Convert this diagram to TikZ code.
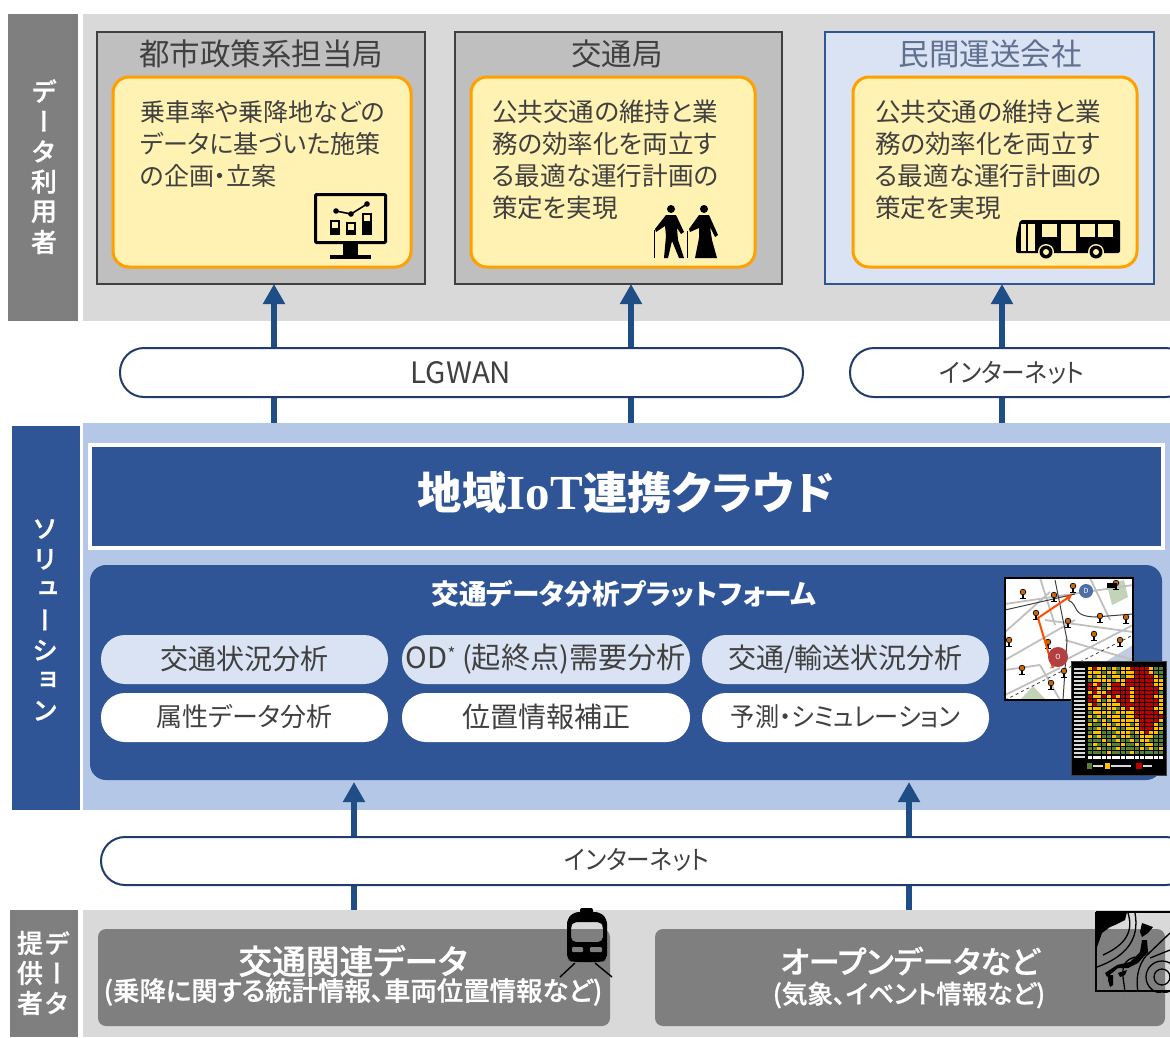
\documentclass[tikz,border=0pt]{standalone}
\usepackage{fontspec}
\setmainfont[RawFeature=+palt]{Noto Sans CJK JP}
\newfontfamily\vfont[RawFeature=+vert,FakeBold=0.8]{Noto Sans CJK JP Medium}
\newfontfamily\medfont[RawFeature=+palt,FakeBold=0.8]{Noto Sans CJK JP Medium}
\newfontfamily\slab{Liberation Serif}
\usetikzlibrary{arrows.meta,calc}
\definecolor{navy}{HTML}{2F5597}
\definecolor{arrowblue}{HTML}{1F4E86}
\definecolor{paleblue}{HTML}{DAE3F3}
\definecolor{bandblue}{HTML}{B4C7E7}
\definecolor{lightgrey}{HTML}{D9D9D9}
\definecolor{midgrey}{HTML}{7F7F7F}
\definecolor{panelgrey}{HTML}{BFBFBF}
\definecolor{cream}{HTML}{FFF2B3}
\definecolor{amber}{HTML}{FFA000}
\definecolor{ink}{HTML}{404040}
\definecolor{hcG}{HTML}{548235}
\definecolor{hcY}{HTML}{FFC000}
\definecolor{hcR}{HTML}{C00000}
\definecolor{slate}{HTML}{5F7090}
\def\fs#1{\fontsize{#1}{#1}\selectfont}
\def\tight#1{\scalebox{.905}[1]{#1}}
\tikzset{
  x=1pt,y=-1pt,
  flat/.style={inner sep=0pt,outer sep=0pt},
  greyside/.style={flat,fill=midgrey},
  panel/.style={flat,draw=ink,line width=2pt,fill=panelgrey},
  bluepanel/.style={flat,draw=navy,line width=2pt,fill=paleblue},
  note/.style={flat,draw=amber,line width=3pt,fill=cream,rounded corners=16pt},
  capsule/.style={flat,draw=navy!70!black,line width=2pt,fill=white,rounded corners=24pt,text=ink},
  tag/.style={flat,rounded corners=24pt,text=ink},
  title/.style={flat,text=ink},
  body/.style={flat,anchor=north west,align=left,text=ink},
  whiteglyph/.style={flat,text=white,font=\fs{26}},
  link/.style={draw=arrowblue,line width=6.5pt},
  uplink/.style={link,-{Triangle[width=21pt,length=20pt]}},
  data/.style={flat,fill=midgrey,rounded corners=8pt},
}
\def\boxat#1#2#3#4#5#6{%
  \pgfmathsetmacro\bw{#5-#3}\pgfmathsetmacro\bh{#6-#4}%
  \pgfmathsetmacro\bx{(#3+#5)/2}\pgfmathsetmacro\by{(#4+#6)/2}%
  \node[#2,minimum width=\bw pt,minimum height=\bh pt] (#1) at (\bx,\by) {};}
\newcount\hx
\def\heatrow#1#2{\def\hy{#1}\hx=0 \heatcell#2\relax}
\def\heatcell#1{\ifx#1\relax\else
  \fill[hc#1] ({1088+4.72*\the\hx},\hy) rectangle ++(3.9,3.2);
  \advance\hx by 1 \expandafter\heatcell\fi}
\def\pin#1#2{\fill[black] (#1-1.1,#2) rectangle (#1+1.1,#2+7);\fill[black] (#1-2.6,#2+6) rectangle (#1+2.6,#2+7.4);\fill[black] (#1,#2) circle (3.2);\fill[orange!80!black] (#1,#2) circle (2.3);}
\begin{document}
\begin{tikzpicture}
\useasboundingbox (0,0) rectangle (1170,1037);
\clip (0,0) rectangle (1170,1037);
\fill[white] (0,0) rectangle (1170,1037);

% bands
\boxat{topband}{flat,fill=lightgrey}{83}{14}{1170}{321}
\boxat{topside}{greyside}{8}{14}{78}{321}
\boxat{midband}{flat,fill=bandblue}{83}{423}{1170}{810}
\boxat{midside}{flat,fill=navy}{12}{426}{80}{810}
\boxat{lowband}{flat,fill=lightgrey}{83}{910}{1170}{1037}
\boxat{lowside}{greyside}{10}{910}{78}{1037}

% top panels
\boxat{pa}{panel}{97}{32}{425}{284}
\boxat{pb}{panel}{455}{32}{782}{284}
\boxat{pc}{bluepanel}{825}{32}{1154}{284}
\boxat{na}{note}{113}{77}{411}{267}
\boxat{nb}{note}{471}{77}{755}{267}
\boxat{nc}{note}{853}{77}{1137}{267}
\node[title,font=\fs{30.5}] (ta) at (261,54) {都市政策系担当局};
\node[title,font=\fs{30.5}] (tb) at (617,54) {交通局};
\node[title,font=\fs{30.5},text=slate] (tc) at (990,54) {民間運送会社};
\node[body,font=\fontsize{25}{32}\selectfont] (ba) at (140,100) {乗車率や乗降地などの\\データに基づいた施策\\の企画・立案};
\node[body,font=\fontsize{25.6}{32}\selectfont] (bb) at (492,100) {公共交通の維持と業\\務の効率化を両立す\\る最適な運行計画の\\策定を実現};
\node[body,font=\fontsize{25.6}{32}\selectfont] (bc) at (875,100) {公共交通の維持と業\\務の効率化を両立す\\る最適な運行計画の\\策定を実現};

% arrows, behind the capsules
\coordinate (xa) at (274,0);
\coordinate (xb) at (631,0);
\coordinate (xc) at (1002,0);
\coordinate (xd) at (354,782);
\coordinate (xe) at (909,782);
\draw[uplink] (midband.north -| xa) -- (pa.south -| xa);
\draw[uplink] (midband.north -| xb) -- (pb.south -| xb);
\draw[uplink] (midband.north -| xc) -- (pc.south -| xc);
\draw[uplink] (lowband.north -| xd) -- (xd);
\draw[uplink] (lowband.north -| xe) -- (xe);

% network capsules
\boxat{lg}{capsule}{120}{348}{803}{397}
\boxat{ia}{capsule}{850}{348}{1190}{397}
\boxat{ib}{capsule}{101}{837}{1190}{885}
\node[title,font=\fs{29.5}] (lgt) at (461,373) {LGWAN};
\node[title,font=\fs{26}] (iat) at (1012,373) {\tight{インターネット}};
\node[title,font=\fs{26}] (ibt) at (637,860) {\tight{インターネット}};

% cloud
\boxat{cloud}{flat,draw=white,line width=4pt,fill=navy}{90}{445}{1163}{548}
\node[flat,text=white,font=\fs{44.5}\bfseries] (cloudt) at (626,493) {地域{\slab\fs{49}\bfseries IoT}連携クラウド};

% platform
\boxat{plat}{flat,fill=navy,rounded corners=16pt}{90}{565}{1162}{780}
\node[flat,text=white,font=\fs{27.7}\bfseries] (platt) at (624,594) {交通データ分析プラットフォーム};
\foreach \nm/\xa/\xb/\lab in {p1/101/388/{\fs{28}交通状況分析},p2/402/690/{\fs{29.2}OD\raisebox{8pt}{\fs{17}*} (起終点)需要分析},p3/702/989/{\fs{28}交通/輸送状況分析}}{
  \boxat{\nm}{tag,fill=paleblue}{\xa}{635}{\xb}{684}
  \pgfmathsetmacro\cx{(\xa+\xb)/2}
  \node[title] (\nm t) at (\cx,659) {\lab};
}
\foreach \nm/\xa/\xb/\lab in {q1/101/388/{\fs{26}属性データ分析},q2/402/690/{\fs{28}位置情報補正},q3/702/989/{\fs{26}\scalebox{.93}[1]{予測・シミュレーション}}}{
  \boxat{\nm}{tag,fill=white}{\xa}{693}{\xb}{742}
  \pgfmathsetmacro\cx{(\xa+\xb)/2}
  \node[title] (\nm t) at (\cx,717) {\lab};
}

% map thumbnail
\fill[white] (1005,578) rectangle (1133,700);
\begin{scope}
\clip (1005,578) rectangle (1133,700);
\fill[hcG!35!white] (1107,585) -- (1124,580) -- (1128,597) -- (1112,605) -- cycle;
\fill[hcG!35!white] (1020,700) -- (1033,686) -- (1046,700) -- cycle;
\fill[navy!30!white] (1095,668) -- (1133,645) -- (1133,700) -- (1095,700) -- cycle;
\foreach \a/\b/\c/\d in {1005/604/1133/585,1005/632/1050/592,1005/660/1075/620,1040/578/1055/625,1045/620/1133/632,1005/695/1060/668,1050/668/1133/625,1005/670/1040/665,1065/640/1133/660,1040/665/1060/700,1090/578/1110/620}{
  \draw[panelgrey,line width=1.8pt] (\a,\b) -- (\c,\d);
}
\draw[ink,line width=1pt] (1005,610) -- (1075,594);
\draw[ink,line width=1pt] (1055,580) -- (1067,640) -- (1063,700);
\draw[ink,line width=1pt] (1068,600) .. controls (1080,605) and (1070,616) .. (1095,617) -- (1133,614);
\draw[ink,line width=.8pt,dashed] (1005,700) -- (1133,635);
\foreach \a/\b in {1023/592,1054/595,1073/586,1116/583,1036/613,1068/621,1100/616,1126/617,1009/640,1048/642,1094/634,1120/640,1022/668,1051/683,1064/671}{\pin{\a}{\b}}
\draw[line width=2pt,draw=orange!60!red,-{Triangle[width=6pt,length=6pt]}] (1053,668) -- (1038,618) -- (1072,595);
\fill[navy!85!white] (1086,591) circle (7);
\fill[red!60!black!75!white] (1058,657) circle (10);
\fill[black] (1107,583) rectangle (1117,588);
\node[flat,text=white,font=\fs{7}] (mo) at (1086,591) {D};
\node[flat,text=white,font=\fs{7}] (md) at (1058,657) {O};
\end{scope}
\draw[black,line width=2pt] (1005,578) rectangle (1133,700);

% heat map thumbnail
\fill[black] (1071,661) rectangle (1166,775);
\draw[ink,line width=1pt] (1071,661) rectangle (1166,775);
\heatrow{667.0}{YRYYGYGYYRRRRYGG}
\heatrow{671.0}{YYYGYYGYYYRRRYGG}
\heatrow{675.0}{YGYYGYYGYYRRRRYG}
\heatrow{679.0}{GYYYYGYYRRRRRRYY}
\heatrow{683.0}{RYRGYRRYRRRRRRYY}
\heatrow{687.0}{RRYGYRRRRYRRRRRY}
\heatrow{691.0}{YRYYRRRRRYRRRRRG}
\heatrow{695.0}{RYYRYRYRRYRRRRYY}
\heatrow{699.0}{RRYGYYRRRYRRRRRY}
\heatrow{703.0}{YRGYYYYRRRRRRRRY}
\heatrow{707.0}{YYYGYYGYRYRRRRYY}
\heatrow{711.0}{GYYYYGYYYYRRRRRY}
\heatrow{715.0}{YGYGYYYGYYRRRRRR}
\heatrow{719.0}{GYGYGYYYYYYRRRRY}
\heatrow{723.0}{YGGYYGYYYGYRRRYG}
\heatrow{727.0}{GGYGYYGGYYYRRRYY}
\heatrow{731.0}{GYYGGGYYYGYYRYYG}
\heatrow{735.0}{YGYGGYGYYGGYYYGG}
\heatrow{739.0}{GGGYGGYGGYGYYGGG}
\heatrow{743.0}{GYGGYGGYGGYGYYGG}
\heatrow{747.0}{GGYGGGYGGGGYGYGY}
\heatrow{751.0}{GGGGYGGGGYGGGGGG}
\foreach \r in {0,...,22}{\pgfmathsetmacro\yy{668+4*\r}\fill[lightgrey] (1074,\yy) rectangle (1085,\yy+1.6);}
\foreach \r in {0,...,15}{\pgfmathsetmacro\xx{1088+4.72*\r}\fill[white] (\xx,756) rectangle (\xx+3.9,759);}
\fill[hcG] (1087,763) rectangle (1092,769);
\fill[lightgrey] (1093,765) rectangle (1103,767);
\fill[hcY] (1105,763) rectangle (1110,769);
\fill[lightgrey] (1111,765) rectangle (1131,767);
\fill[hcR] (1136,763) rectangle (1142,769);
\fill[lightgrey] (1143,765) rectangle (1152,767);

% side labels
\foreach \ch [count=\i from 0] in {デ,ー,タ,利,用,者}{
  \pgfmathsetmacro\yy{91+30.2*\i}
  \node[whiteglyph] (sa\i) at (44,\yy) {\vfont\ch};
}
\foreach \ch [count=\i from 0] in {ソ,リ,ュ,ー,シ,ョ,ン}{
  \pgfmathsetmacro\yy{529+30.3*\i}
  \node[whiteglyph] (sb\i) at (45,\yy) {\vfont\ch};
}
\foreach \ch [count=\i from 0] in {提,供,者}{
  \pgfmathsetmacro\yy{943+30*\i}
  \node[whiteglyph] (sc\i) at (30,\yy) {\medfont\ch};
}
\foreach \ch [count=\i from 0] in {デ,ー,タ}{
  \pgfmathsetmacro\yy{943+30*\i}
  \node[whiteglyph] (sd\i) at (57,\yy) {\vfont\ch};
}

% data sources
\boxat{da}{data}{98}{929}{610}{1026}
\boxat{db}{data}{655}{929}{1165}{1026}
\node[flat,text=white,font=\fs{33.7}\medfont] (dat) at (353,961) {交通関連データ};
\node[flat,text=white,font=\fs{26.4}\medfont] (das) at (353,992) {(乗降に関する統計情報、車両位置情報など)};
\node[flat,text=white,font=\fs{31}\medfont] (dbt) at (910,961) {オープンデータなど};
\node[flat,text=white,font=\fs{25.5}\medfont] (dbs) at (909,995) {(気象、イベント情報など)};

% monitor icon
\draw[black,line width=3pt,rounded corners=1pt] (315.5,194.5) rectangle (385.5,242.5);
\fill[black] (343,243) rectangle (358,255);
\fill[black] (330,255) rectangle (371,259);
\foreach \x/\y in {330/220,346/222,362/213}{\fill[black] (\x,\y) rectangle (\x+9.5,235);\fill[cream] (\x+2,\y+2) rectangle (\x+7.5,\y+8);}
\draw[black,line width=1.6pt] (336,211) -- (351,214) -- (367,204);
\fill[black] (336,211) circle (2.8) (351,214) circle (2.8) (367,204) circle (2.8);

% elderly icon
\fill[black] (671,209) circle (4) (704,209) circle (4);
\fill[black] (666,215) -- (676,215) -- (684,232) -- (681,234) -- (677,228) -- (678,240) -- (684,258) -- (679,258) -- (672,241) -- (668,258) -- (664,258) -- (666,236) -- (665,226) -- (656,232) -- (655,229) -- cycle;
\fill[black] (699,215) -- (709,215) -- (718,235) -- (715,237) -- (710,227) -- (712,240) -- (717,258) -- (695,258) -- (699,238) -- (699,228) -- (690,232) -- (689,229) -- cycle;
\draw[black,line width=.9pt] (654.5,230) -- (654.5,258) (687,231) -- (687,258);

% bus icon
\fill[black,rounded corners=2pt] (1020,220) -- (1120,220) -- (1120,253) -- (1016,253) -- (1016,238) -- cycle;
\foreach \a/\b/\c/\d in {1021/224/1026/251,1028/224/1035/251,1042/224/1057/237,1061/224/1076/251,1080/224/1095/237,1098/224/1113/237}{\fill[cream] (\a,\b) rectangle (\c,\d);}
\foreach \x in {1046,1096}{\fill[cream] (\x,252) circle (8);\fill[black] (\x,252) circle (6.5);\fill[cream] (\x,252) circle (3);}

% train icon (window is see-through)
\fill[black,even odd rule] [rounded corners=5pt] (574,912) -- (600,912) -- (607,919) -- (607,960) -- (601,962) -- (573,962) -- (567,960) -- (567,919) -- cycle
   (573,922) -- (601,922) -- (603,925) -- (603,942) -- (571,942) -- (571,925) -- cycle;
\fill[black,rounded corners=2pt] (580,908) rectangle (593,915);
\fill[midgrey,rounded corners=1pt] (572,947) rectangle (583,952) (590,947) rectangle (602,952);
\draw[black,line width=1.4pt] (575,963) -- (560,977) (595,963) -- (612,977);

% weather icon (background shows through)
\begin{scope}
\clip (1095,911) rectangle (1170,992);
\fill[black] (1095,912) -- (1127,912) -- (1125,920) -- (1115,925) -- (1110,927) -- (1102,933) -- (1097,947) -- (1095,947) -- cycle;
\draw[black,line width=1.3pt] (1128,913) .. controls (1134,932) and (1125,945) .. (1103,955);
\draw[black,line width=1.3pt] (1135,913) .. controls (1140,940) and (1125,957) .. (1097,967);
\draw[black,line width=1.3pt] (1147,955) -- (1170,933);
\draw[black,line width=1.3pt] (1125,992) -- (1123,977) .. controls (1122,965) and (1125,960) .. (1135,957);
\draw[black,line width=1.3pt] (1138,992) .. controls (1135,975) and (1140,960) .. (1150,952);
\draw[black,line width=1.3pt] (1162,977) circle (8) (1162,977) circle (16) (1170,950) -- (1150,958);
\fill[black] (1142,923) -- (1153,927) -- (1148,933) -- (1142,937) -- (1140,932) -- cycle;
\fill[black] (1147,940) -- (1148,952) -- (1138,963) -- (1128,968) -- (1118,968) -- (1107,977) -- (1105,973) -- (1117,965) -- (1130,962) -- (1140,952) -- (1142,940) -- cycle;
\fill[black] (1108,975) -- (1113,975) -- (1113,985) -- (1110,987) -- (1108,980) -- cycle;
\fill[black] (1118,973) -- (1127,970) -- (1125,975) -- (1120,977) -- cycle;
\end{scope}
\draw[black,line width=2pt] (1096,912) -- (1175,912) (1096,912) -- (1096,991) -- (1175,991);
\end{tikzpicture}
\end{document}
